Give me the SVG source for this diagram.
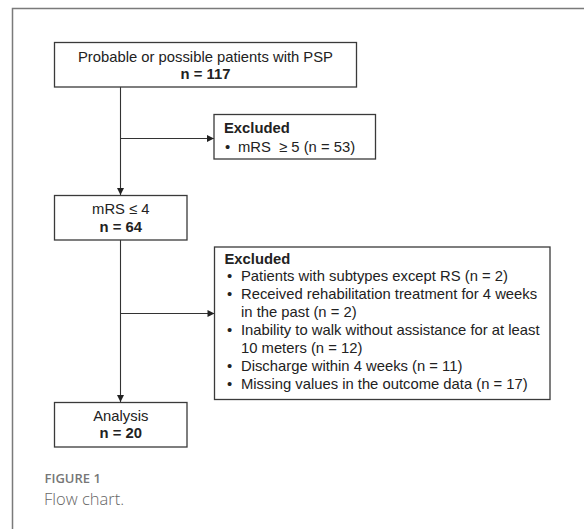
<svg xmlns="http://www.w3.org/2000/svg" width="584" height="529" viewBox="0 0 584 529">
<defs>
<style>
.box{fill:#fff;stroke:#3a3a3a;stroke-width:1.3}
.t{font-family:"Liberation Sans",Arial,sans-serif;font-size:14.8px;fill:#222}
.c{text-anchor:middle}
.b{font-weight:bold}
.ln{stroke:#333;stroke-width:1.1;fill:none}
.cap1{font-family:"Open Sans",Lato,sans-serif;font-size:13px;font-weight:600;fill:#777}
.cap2{font-family:"Open Sans",Lato,sans-serif;font-size:16.5px;font-weight:300;fill:#666}
</style>
<marker id="ah" viewBox="0 0 10 10" refX="10" refY="5" markerWidth="8" markerHeight="7" markerUnits="userSpaceOnUse" orient="auto">
<path d="M0,0 L10,5 L0,10 z" fill="#222"/>
</marker>
</defs>
<rect width="584" height="529" fill="#fff"/>
<path d="M12.5,529 L12.5,8.5 L584,8.5" fill="none" stroke="#7a7a7a" stroke-width="1.5"/>

<g id="connectors">
<line class="ln" x1="120.5" y1="87" x2="120.5" y2="195" marker-end="url(#ah)"/>
<line class="ln" x1="120.5" y1="138.5" x2="214" y2="138.5" marker-end="url(#ah)"/>
<line class="ln" x1="120.5" y1="240" x2="120.5" y2="402" marker-end="url(#ah)"/>
<line class="ln" x1="120.5" y1="313.5" x2="214.5" y2="313.5" marker-end="url(#ah)"/>
</g>

<g id="node-start">
<rect class="box" x="54.5" y="42.5" width="302" height="44.5"/>
<text class="t c" x="205.5" y="61.5">Probable or possible patients with PSP</text>
<text class="t c b" x="205.5" y="78.5">n = 117</text>
</g>

<g id="node-excluded1">
<rect class="box" x="214" y="114.5" width="161.5" height="44.5"/>
<text class="t b" x="224" y="132.7">Excluded</text>
<text class="t" x="225" y="151.7">•</text>
<text class="t" x="238" y="151.7" xml:space="preserve">mRS  ≥ 5 (n = 53)</text>
</g>

<g id="node-mrs">
<rect class="box" x="54.5" y="195.5" width="132.5" height="44.5"/>
<text class="t c" x="120.8" y="214">mRS ≤ 4</text>
<text class="t c b" x="120.8" y="232">n = 64</text>
</g>

<g id="node-excluded2">
<rect class="box" x="214.5" y="247" width="335.5" height="152.5"/>
<text class="t b" x="224.5" y="263.5">Excluded</text>
<text class="t" x="227" y="281.4">•</text>
<text class="t" x="241" y="281.4">Patients with subtypes except RS (n = 2)</text>
<text class="t" x="227" y="299.2">•</text>
<text class="t" x="241" y="299.2">Received rehabilitation treatment for 4 weeks</text>
<text class="t" x="241" y="317.1">in the past (n = 2)</text>
<text class="t" x="227" y="335">•</text>
<text class="t" x="241" y="335">Inability to walk without assistance for at least</text>
<text class="t" x="241" y="352.8">10 meters (n = 12)</text>
<text class="t" x="227" y="370.7">•</text>
<text class="t" x="241" y="370.7">Discharge within 4 weeks (n = 11)</text>
<text class="t" x="227" y="388.5">•</text>
<text class="t" x="241" y="388.5">Missing values in the outcome data (n = 17)</text>
</g>

<g id="node-analysis">
<rect class="box" x="54.5" y="402.5" width="132.5" height="44.5"/>
<text class="t c" x="120.8" y="420.7">Analysis</text>
<text class="t c b" x="120.8" y="438.3">n = 20</text>
</g>

<text class="cap1" x="44.5" y="483.3">FIGURE 1</text>
<text class="cap2" x="44" y="505">Flow chart.</text>
</svg>
